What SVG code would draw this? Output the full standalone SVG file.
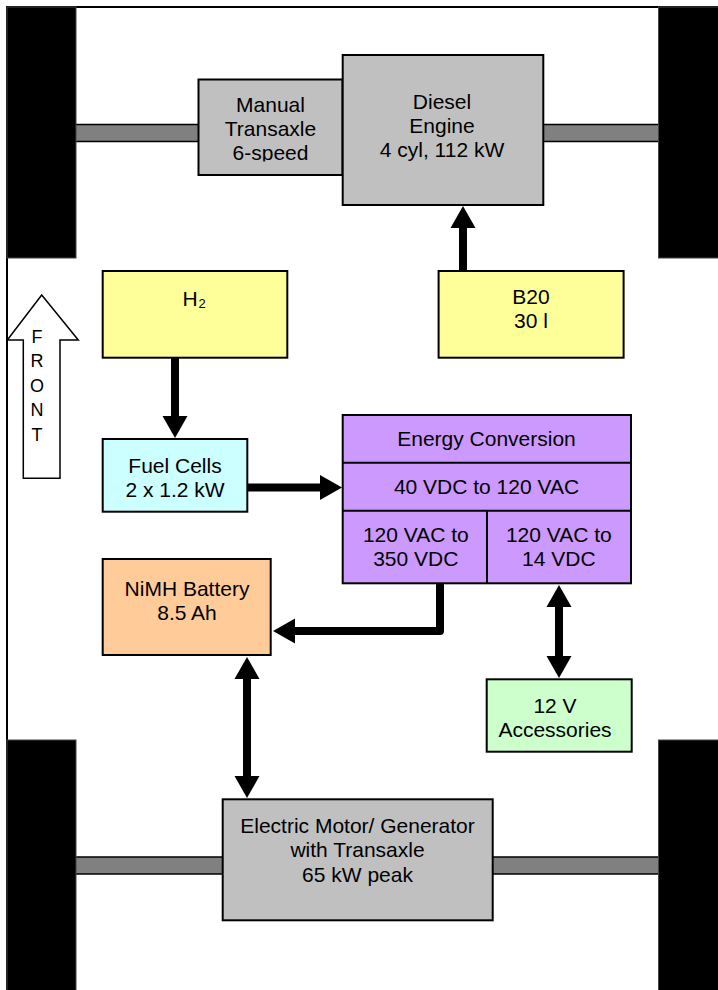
<svg xmlns="http://www.w3.org/2000/svg" width="718" height="990" viewBox="0 0 718 990">
<style>
text{font-family:"Liberation Sans",Arial,sans-serif;font-size:21px;fill:#000;text-anchor:middle}
.box{stroke:#000;stroke-width:2}
.gray{fill:#C0C0C0}
.yellow{fill:#FFFF99}
.cyan{fill:#CCFFFF}
.purple{fill:#CC99FF}
.orange{fill:#FFCC99}
.green{fill:#CCFFCC}
.wheel{fill:#000;stroke:#444;stroke-width:1}
.axle{fill:#808080;stroke:#000;stroke-width:1.5}
.conn{fill:none;stroke:#000;stroke-width:8;stroke-linejoin:round}
.front{font-size:18px}
</style>
<defs>
<marker id="ah" markerUnits="userSpaceOnUse" markerWidth="23" markerHeight="26" refX="1" refY="12.5" orient="auto-start-reverse" viewBox="0 0 23 25">
<path d="M0,0 L22,12.5 L0,25 Z" fill="#000"/>
</marker>
<clipPath id="clipManual"><rect x="198" y="79" width="145" height="82.5"/></clipPath>
</defs>
<rect width="718" height="990" fill="#fff"/>
<g id="frame">
<path d="M7,990 V7 H718" fill="none" stroke="#000" stroke-width="2"/>
</g>
<g id="axles">
<rect class="axle" x="70" y="124.5" width="595" height="17"/>
<rect class="axle" x="70" y="857" width="595" height="17"/>
</g>
<g id="wheels">
<rect class="wheel" x="7" y="7" width="69" height="251"/>
<rect class="wheel" x="658.5" y="7" width="62" height="251"/>
<rect class="wheel" x="7" y="740" width="69" height="252"/>
<rect class="wheel" x="658.5" y="740" width="62" height="252"/>
</g>
<g id="front-arrow">
<polygon points="41.7,295 78.3,340 60,340 60,478.3 23.3,478.3 23.3,340 7.3,340" fill="#fff" stroke="#000" stroke-width="1.5"/>
<text class="front" x="37" y="343">F</text>
<text class="front" x="37" y="367">R</text>
<text class="front" x="37" y="391.5">O</text>
<text class="front" x="37" y="416">N</text>
<text class="front" x="37" y="440.5">T</text>
</g>
<g id="manual-transaxle">
<rect class="box gray" x="198.5" y="79.5" width="144" height="95.5"/>
<g clip-path="url(#clipManual)">
<text x="270.5" y="112.3">Manual</text>
<text x="270.5" y="136">Transaxle</text>
<text x="270.5" y="160">6-speed</text>
</g>
</g>
<g id="diesel-engine">
<rect class="box gray" x="342.7" y="55" width="200.6" height="150"/>
<text x="442" y="109.3">Diesel</text>
<text x="442" y="133">Engine</text>
<text x="442" y="157.3">4 cyl, 112 kW</text>
</g>
<g id="h2">
<rect class="box yellow" x="102.7" y="271" width="184.6" height="86.7"/>
<text x="190" y="305.7">H</text>
<text x="202" y="308" style="font-size:13px">2</text>
</g>
<g id="b20">
<rect class="box yellow" x="438.6" y="271" width="185" height="86.7"/>
<text x="531" y="304.3">B20</text>
<text x="531" y="328.3">30 l</text>
</g>
<g id="fuel-cells">
<rect class="box cyan" x="102.7" y="439" width="144.6" height="72.7"/>
<text x="175" y="472.7">Fuel Cells</text>
<text x="175" y="496.7">2 x 1.2 kW</text>
</g>
<g id="energy-conversion">
<rect class="box purple" x="342.7" y="415" width="288.3" height="168.3"/>
<line x1="342.7" y1="462.7" x2="631" y2="462.7" stroke="#000" stroke-width="2"/>
<line x1="342.7" y1="510.7" x2="631" y2="510.7" stroke="#000" stroke-width="2"/>
<line x1="487" y1="510.7" x2="487" y2="583.3" stroke="#000" stroke-width="2"/>
<text x="486.5" y="446">Energy Conversion</text>
<text x="486.5" y="494">40 VDC to 120 VAC</text>
<text x="415.8" y="541.7">120 VAC to</text>
<text x="415.8" y="565.7">350 VDC</text>
<text x="558.8" y="541.7">120 VAC to</text>
<text x="558.8" y="565.7">14 VDC</text>
</g>
<g id="nimh-battery">
<rect class="box orange" x="102.7" y="559" width="168" height="96"/>
<text x="187" y="595.5">NiMH Battery</text>
<text x="187" y="620">8.5 Ah</text>
</g>
<g id="accessories">
<rect class="box green" x="486.7" y="679.3" width="145" height="72.4"/>
<text x="555" y="713.3">12 V</text>
<text x="555" y="736.7">Accessories</text>
</g>
<g id="motor-generator">
<rect class="box gray" x="222.7" y="799.3" width="270" height="121"/>
<text x="357.5" y="832.7">Electric Motor/ Generator</text>
<text x="357.5" y="856.7">with Transaxle</text>
<text x="357.5" y="881.7">65 kW peak</text>
</g>
<g id="connectors">
<path class="conn" d="M463,271 V227" marker-end="url(#ah)"/>
<path class="conn" d="M175,358 V417" marker-end="url(#ah)"/>
<path class="conn" d="M247,487.5 H321" marker-end="url(#ah)"/>
<path class="conn" d="M440,583 V631 H294" marker-end="url(#ah)"/>
<path class="conn" d="M559,606 V657" marker-start="url(#ah)" marker-end="url(#ah)"/>
<path class="conn" d="M247,678 V777" marker-start="url(#ah)" marker-end="url(#ah)"/>
</g>
</svg>
